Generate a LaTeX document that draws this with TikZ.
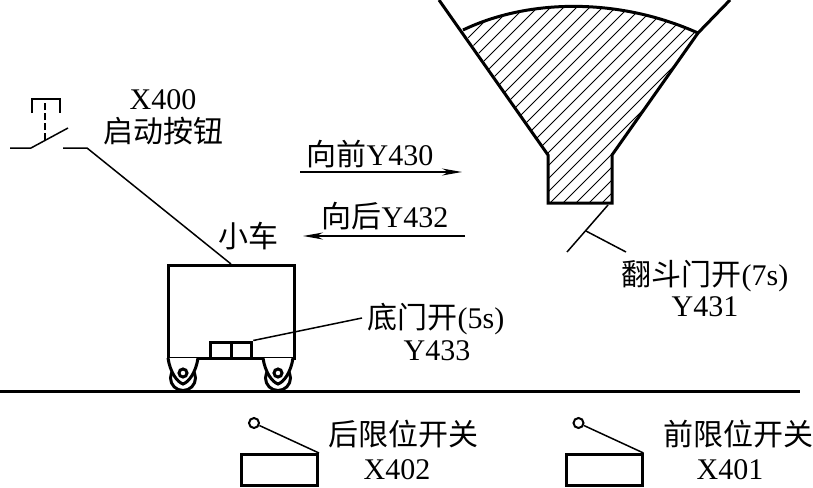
\documentclass[tikz,border=0pt]{standalone}
\usepackage{fontspec}
\setmainfont{Liberation Serif}
\newfontfamily\cjk{Noto Sans CJK SC}
\usetikzlibrary{arrows.meta}
\tikzset{
	heavy/.style={line width=3pt},
	lean/.style={line width=1.5pt},
	hatch/.style={line width=1pt},
	label/.style={inner sep=0pt, font=\fontsize{30}{32}\selectfont},
	move/.style={lean, -{Stealth[length=20pt, width=7pt]}}
}
\begin{document}
\begin{tikzpicture}[x=1pt, y=-1pt]
	\useasboundingbox (0,0) rectangle (813,487);
	% hopper
	\coordinate (hopperL) at (439,0);
	\coordinate (hopperR) at (730,0);
	\coordinate (rimL) at (463,30);
	\coordinate (rimR) at (698,33);
	\coordinate (neckL) at (548,155);
	\coordinate (neckR) at (612,155);
	\coordinate (baseL) at (548,203);
	\coordinate (baseR) at (612,203);
	\begin{scope}
		\clip (rimL) .. controls (530,-2) and (620,-2) .. (rimR) -- (neckR) -- (baseR) -- (baseL) -- (neckL) -- cycle;
		\foreach \c in {480,493,...,840}
			\draw[hatch] (\c-260,260) -- (\c,0);
	\end{scope}
	\draw[heavy] (rimL) .. controls (530,-2) and (620,-2) .. (rimR);
	\draw[heavy] (hopperL) -- (neckL) -- (baseL) -- (baseR) -- (neckR) -- (rimR) -- (hopperR);
	\coordinate (tipT) at (608,205);
	\coordinate (tipB) at (567,252);
	\coordinate (tipM) at (586,231);
	\coordinate (tipL) at (626,252);
	\draw[lean] (tipT) -- (tipB);
	\draw[lean] (tipM) -- (tipL);
	\node[label] (flap) at (705,276) {{\cjk 翻斗门开}(7s)};
	\node[label] (flapY) at (705,307) {Y431};
	% start button
	\coordinate (swA) at (10,148);
	\coordinate (swB) at (31,148);
	\coordinate (swC) at (68,128);
	\coordinate (swD) at (63,148);
	\coordinate (swE) at (87,148);
	\coordinate (pushB) at (45,140);
	\coordinate (pushT) at (45,99);
	\coordinate (capL) at (32,113);
	\coordinate (capR) at (60,113);
	\draw[lean] (swA) -- (swB) -- (swC);
	\draw[lean] (capL) |- (pushT) -| (capR);
	\draw[lean, dash pattern=on 7pt off 3pt] (pushB) -- (pushT);
	\node[label] (startX) at (163,100) {X400};
	\node[label] (start) at (163,131) {\cjk 启动按钮};
	% cart
	\node[draw, heavy, inner sep=0pt, minimum width=126pt, minimum height=93pt] (cart) at (231,312) {};
	\node[label] (cartT) at (248,236) {\cjk 小车};
	\draw[lean] (swD) -- (swE) -- (cart.north);
	\node[draw, heavy, inner sep=0pt, minimum width=20.5pt, minimum height=16pt] (doorL) at (221,350) {};
	\node[draw, heavy, inner sep=0pt, minimum width=20.5pt, minimum height=16pt] (doorR) at (241.5,350) {};
	\coordinate (doorTag) at (362,318);
	\draw[lean] (doorR.north east) -- (doorTag);
	\node[label] (door) at (436,319) {{\cjk 底门开}(5s)};
	\node[label] (doorY) at (437,351) {Y433};
	\foreach \name/\x in {wheelL/183, wheelR/278} {
		\node[draw, heavy, circle, inner sep=0pt, minimum size=25pt] (\name) at (\x,378) {};
		\draw[heavy, fill=white] (\x-15,358) .. controls (\x-13,372) and (\x-6,382) .. (\x,384) .. controls (\x+6,382) and (\x+13,372) .. (\x+15,358);
		\node[draw, heavy, circle, fill=white, inner sep=0pt, minimum size=8pt] (\name hub) at (\x,373) {};
	}
	% ground
	\coordinate (groundL) at (0,391);
	\coordinate (groundR) at (800,391);
	\draw[heavy] (groundL) -- (groundR);
	% travel
	\coordinate (fwdA) at (300,172);
	\coordinate (fwdB) at (462,172);
	\coordinate (backA) at (465,236);
	\coordinate (backB) at (303,236);
	\draw[move] (fwdA) -- (fwdB);
	\draw[move] (backA) -- (backB);
	\node[label] (fwd) at (370,154) {{\cjk 向前}Y430};
	\node[label] (back) at (385,216) {{\cjk 向后}Y432};
	% limit switches
	\foreach \name/\x in {rear/279.5, front/604} {
		\node[draw, heavy, inner sep=0pt, minimum width=76pt, minimum height=31pt] (\name box) at (\x,470) {};
		\node[draw, line width=2pt, circle, inner sep=0pt, minimum size=10pt] (\name pin) at (\x-25.5,423) {};
		\draw[lean] (\name pin) -- (\name box.north east);
	}
	\node[label] (rear) at (403,434) {\cjk 后限位开关};
	\node[label] (rearX) at (397,470) {X402};
	\node[label] (front) at (738,434) {\cjk 前限位开关};
	\node[label] (frontX) at (730,470) {X401};
\end{tikzpicture}
\end{document}
